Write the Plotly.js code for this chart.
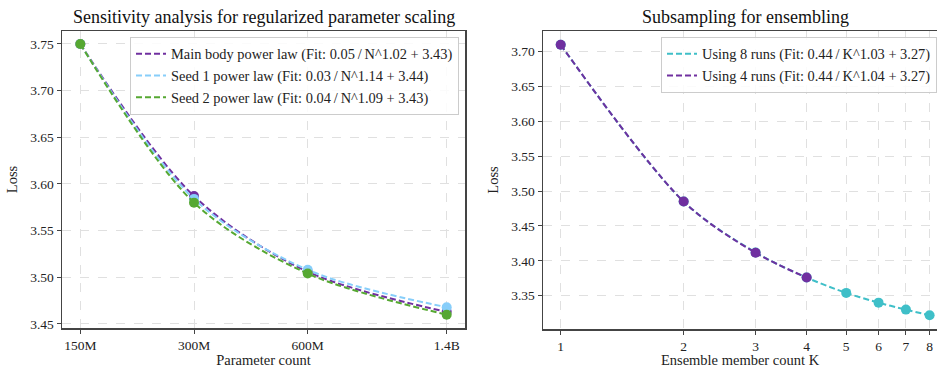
<!DOCTYPE html>
<html>
<head>
<meta charset="utf-8">
<script src="https://cdn.plot.ly/plotly-3.0.1.min.js"></script>
<style>html,body{margin:0;padding:0;background:#fff;}#chart{width:937px;height:368px;}</style>
</head>
<body>
<div id="chart"></div>
<script>
// ---- Data: left panel ----
const paramCounts = [150e6, 300e6, 600e6, 1.4e9];
const paramTickLabels = ["150M", "300M", "600M", "1.4B"];
const mainBodyLoss = [3.750, 3.587, 3.506, 3.463];
const seed1Loss    = [3.750, 3.584, 3.508, 3.468];
const seed2Loss    = [3.750, 3.580, 3.504, 3.460];
const leftNames = [
  "Main body power law (Fit: 0.05\u2009/\u2009N^1.02 + 3.43)",
  "Seed 1 power law (Fit: 0.03\u2009/\u2009N^1.14 + 3.44)",
  "Seed 2 power law (Fit: 0.04\u2009/\u2009N^1.09 + 3.43)"
];
// ---- Data: right panel ----
const ensembleK = [1, 2, 3, 4, 5, 6, 7, 8];
const runs8Loss = [3.710, 3.485, 3.412, 3.376, 3.354, 3.340, 3.330, 3.322];
const runs4K = [1, 2, 3, 4];
const runs4Loss = [3.710, 3.485, 3.4115, 3.376];
const rightNames = [
  "Using 8 runs (Fit: 0.44\u2009/\u2009K^1.03 + 3.27)",
  "Using 4 runs (Fit: 0.44\u2009/\u2009K^1.04 + 3.27)"
];

const PURPLE = "#7030a0", LBLUE = "#87cefa", GREEN = "#56a832", CYAN = "#3fbfc8";
const FONT = "'Liberation Serif', 'Times New Roman', serif";
const dash = "6px,3px";

function lineTrace(x, y, color, name, xa, ya, leg) {
  return {x, y, mode: "lines", name, line: {color, width: 2, dash, shape: "spline", smoothing: 0.9},
    xaxis: xa, yaxis: ya, legend: leg, hoverinfo: "skip"};
}
function markTrace(x, y, color, xa, ya) {
  return {x, y, mode: "markers", marker: {color, size: 10}, showlegend: false, xaxis: xa, yaxis: ya};
}

const traces = [
  lineTrace(paramCounts, mainBodyLoss, PURPLE, leftNames[0], "x", "y", "legend"),
  markTrace(paramCounts, mainBodyLoss, PURPLE, "x", "y"),
  lineTrace(paramCounts, seed1Loss, LBLUE, leftNames[1], "x", "y", "legend"),
  markTrace(paramCounts, seed1Loss, LBLUE, "x", "y"),
  lineTrace(paramCounts, seed2Loss, GREEN, leftNames[2], "x", "y", "legend"),
  markTrace(paramCounts, seed2Loss, GREEN, "x", "y"),
  lineTrace(ensembleK, runs8Loss, CYAN, rightNames[0], "x2", "y2", "legend2"),
  markTrace(ensembleK, runs8Loss, CYAN, "x2", "y2"),
  lineTrace(runs4K, runs4Loss, PURPLE, rightNames[1], "x2", "y2", "legend2"),
  markTrace(runs4K, runs4Loss, PURPLE, "x2", "y2")
];

const W = 937, H = 368;
const axCommon = {
  showline: true, linecolor: "#444", linewidth: 1.5,
  ticks: "outside", ticklen: 4, tickcolor: "#444", tickwidth: 1,
  showgrid: true, gridcolor: "#e0e0e0", griddash: "dash", gridwidth: 1,
  zeroline: false, tickfont: {family: FONT, size: 13.5, color: "#222"},
  automargin: false
};

const layout = {
  width: W, height: H,
  margin: {l: 0, r: 0, t: 0, b: 0},
  paper_bgcolor: "#fff", plot_bgcolor: "#fff",
  font: {family: FONT, color: "#222"},
  xaxis: Object.assign({}, axCommon, {
    type: "log", domain: [62 / W, 465 / W], range: [8.1276, 9.1946],
    tickvals: paramCounts, ticktext: paramTickLabels, mirror: true, anchor: "y",
    title: {text: "Parameter count", font: {family: FONT, size: 14.5}, standoff: 5}
  }),
  yaxis: Object.assign({}, axCommon, {
    domain: [1 - 328 / H, 1 - 31 / H], range: [3.4457, 3.7639], mirror: true, anchor: "x",
    tickvals: [3.45, 3.50, 3.55, 3.60, 3.65, 3.70, 3.75], tickformat: ".2f",
    title: {text: "Loss", font: {family: FONT, size: 14.5}, standoff: 9}
  }),
  xaxis2: Object.assign({}, axCommon, {
    type: "log", domain: [543 / W, 1], range: [-0.0433, 0.9212],
    tickvals: ensembleK, mirror: true, anchor: "y2",
    title: {text: "Ensemble member count K", font: {family: FONT, size: 14.5}, standoff: 5}
  }),
  yaxis2: Object.assign({}, axCommon, {
    domain: [1 - 329 / H, 1 - 31 / H], range: [3.3022, 3.7297], anchor: "x2",
    tickvals: [3.35, 3.40, 3.45, 3.50, 3.55, 3.60, 3.65, 3.70], tickformat: ".2f",
    title: {text: "Loss", font: {family: FONT, size: 14.5}, standoff: 9}
  }),
  legend: {
    x: 130 / W, y: 1 - 37 / H, xanchor: "left", yanchor: "top",
    bgcolor: "rgba(255,255,255,0.85)", bordercolor: "#cccccc", borderwidth: 1,
    font: {family: FONT, size: 14.4, color: "#222"}, itemwidth: 30, tracegroupgap: 0
  },
  legend2: {
    x: 1, y: 1 - 37 / H, xanchor: "right", yanchor: "top",
    bgcolor: "rgba(255,255,255,0.85)", bordercolor: "#cccccc", borderwidth: 1,
    font: {family: FONT, size: 14.4, color: "#222"}, itemwidth: 30, tracegroupgap: 0
  },
  annotations: [
    {text: "Sensitivity analysis for regularized parameter scaling", xref: "paper", yref: "paper",
     x: (62 + 465) / 2 / W, y: 1 - 5 / H, xanchor: "center", yanchor: "top", showarrow: false,
     font: {family: FONT, size: 18, color: "#111"}},
    {text: "Subsampling for ensembling", xref: "paper", yref: "paper",
     x: 745 / W, y: 1 - 5 / H, xanchor: "center", yanchor: "top", showarrow: false,
     font: {family: FONT, size: 18, color: "#111"}}
  ]
};

Plotly.newPlot("chart", traces, layout, {displayModeBar: false, staticPlot: true});
</script>
</body>
</html>
